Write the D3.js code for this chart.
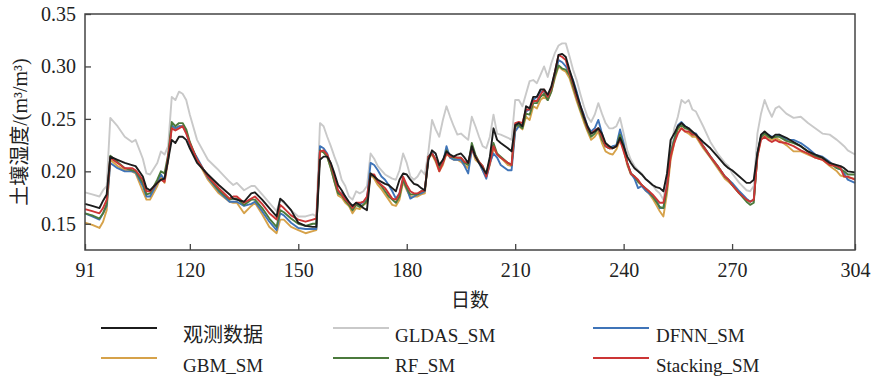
<!DOCTYPE html>
<html>
<head>
<meta charset="utf-8">
<script src="https://cdn.jsdelivr.net/npm/d3@7"></script>
<style>
  body { margin: 0; background: #fff; }
  svg { display: block; }
</style>
</head>
<body>
<svg id="chart" width="872" height="381"></svg>
<script>
// days (key points of the daily curves)
const days = [91, 93, 95, 96, 97, 98, 100, 102, 104, 105, 107, 108, 109, 111, 112, 113, 114, 115, 116, 117, 118, 119, 120,
  122, 125, 128, 131, 132, 133, 135, 137, 138, 140, 142, 144, 145, 146, 148, 150, 152, 154, 155, 156, 157, 158, 159, 160,
  161, 162, 163, 164, 165, 166, 167, 168, 169, 170, 171, 172, 173, 174, 175, 176, 177, 178, 179, 180, 181, 182, 183, 184,
  185, 186, 187, 188, 189, 190, 191, 192, 193, 194, 195, 196, 197, 198, 199, 200, 201, 202, 203, 204, 205, 206, 208, 209,
  210, 211, 212, 213, 214, 215, 216, 217, 218, 219, 220, 221, 222, 223, 224, 225, 226, 227, 228, 229, 230, 231, 232, 233,
  234, 235, 236, 237, 238, 239, 240, 241, 242, 243, 244, 245, 246, 247, 248, 249, 250, 251, 252, 253, 254, 255, 256, 257,
  258, 259, 260, 262, 264, 266, 268, 269, 270, 272, 274, 275, 276, 277, 278, 279, 280, 281, 282, 283, 285, 287, 289, 291,
  293, 295, 297, 299, 300, 301, 302, 304];

const observed = [.169, .167, .165, .172, .178, .214, .211, .208, .206, .205, .195, .184, .182, .189, .192, .193, .211, .230, .227, .233, .233, .230, .222,
  .208, .197, .187, .178, .174, .173, .171, .179, .180, .173, .165, .157, .174, .171, .163, .151, .148, .147, .147, .211, .214, .214, .208, .198,
  .187, .182, .176, .171, .167, .170, .168, .165, .163, .198, .195, .192, .190, .188, .187, .184, .181, .192, .198, .197, .192, .188, .187, .184,
  .182, .211, .220, .217, .206, .211, .219, .216, .214, .216, .217, .213, .208, .224, .214, .208, .203, .198, .214, .241, .230, .227, .222, .219,
  .244, .246, .243, .262, .260, .271, .271, .278, .278, .273, .281, .295, .311, .312, .309, .297, .286, .274, .263, .252, .243, .236, .238, .241,
  .236, .227, .224, .222, .224, .232, .224, .214, .208, .203, .200, .197, .193, .190, .187, .185, .184, .181, .198, .230, .236, .243, .246, .243,
  .241, .238, .235, .228, .222, .214, .206, .203, .201, .195, .189, .189, .192, .217, .235, .238, .235, .232, .235, .235, .232, .228, .224, .219,
  .216, .213, .208, .206, .205, .203, .200, .199];

const gldas = [.180, .178, .176, .182, .186, .251, .243, .233, .228, .230, .212, .198, .197, .208, .219, .216, .224, .271, .268, .276, .274, .268, .254,
  .230, .211, .201, .190, .187, .189, .182, .186, .186, .178, .170, .162, .173, .170, .163, .157, .157, .159, .157, .246, .243, .233, .224, .214,
  .205, .192, .186, .176, .173, .181, .179, .181, .186, .217, .212, .205, .201, .197, .195, .193, .192, .201, .217, .208, .195, .192, .195, .201,
  .197, .219, .249, .240, .233, .249, .262, .252, .243, .235, .236, .233, .230, .252, .243, .233, .224, .222, .233, .254, .236, .235, .232, .230,
  .268, .268, .262, .274, .286, .287, .284, .292, .300, .290, .303, .313, .320, .322, .322, .310, .297, .287, .274, .262, .252, .247, .254, .265,
  .255, .246, .241, .241, .243, .251, .236, .220, .211, .205, .201, .198, .193, .190, .187, .182, .179, .173, .195, .220, .241, .252, .268, .265,
  .268, .259, .257, .243, .228, .217, .208, .205, .198, .189, .182, .181, .186, .236, .255, .268, .259, .252, .260, .262, .255, .251, .252, .246,
  .241, .236, .235, .230, .227, .224, .220, .216];

const dfnn = [.160, .157, .154, .160, .167, .208, .203, .200, .200, .199, .186, .176, .176, .189, .197, .192, .212, .244, .241, .243, .243, .238, .225,
  .213, .194, .181, .171, .171, .171, .167, .169, .171, .162, .152, .144, .160, .158, .151, .146, .145, .145, .145, .224, .222, .217, .205, .192,
  .180, .179, .176, .170, .165, .169, .168, .171, .173, .208, .206, .201, .195, .192, .187, .181, .174, .179, .192, .184, .174, .176, .178, .179,
  .181, .214, .218, .211, .203, .208, .224, .213, .211, .211, .211, .205, .198, .221, .214, .208, .201, .193, .208, .217, .213, .206, .201, .201,
  .238, .243, .243, .257, .259, .268, .271, .276, .276, .268, .278, .292, .306, .304, .300, .295, .287, .276, .263, .254, .243, .238, .241, .249,
  .236, .224, .222, .224, .225, .240, .227, .208, .198, .193, .184, .186, .182, .179, .176, .173, .165, .165, .187, .217, .230, .244, .247, .243,
  .241, .236, .236, .224, .214, .205, .195, .192, .189, .181, .174, .171, .173, .217, .233, .236, .235, .233, .233, .235, .230, .230, .227, .222,
  .216, .214, .209, .203, .202, .198, .192, .189];

const gbm = [.151, .149, .146, .152, .163, .211, .205, .201, .200, .198, .181, .173, .173, .186, .195, .189, .210, .243, .241, .243, .243, .238, .227,
  .211, .192, .179, .171, .170, .170, .160, .167, .170, .159, .147, .141, .154, .154, .147, .144, .141, .143, .144, .220, .218, .214, .203, .190,
  .177, .175, .170, .167, .160, .165, .164, .168, .170, .197, .193, .187, .183, .178, .173, .168, .167, .173, .190, .182, .176, .176, .176, .178,
  .179, .213, .216, .209, .200, .206, .217, .213, .211, .211, .209, .206, .203, .222, .211, .208, .201, .195, .206, .222, .216, .213, .206, .205,
  .240, .243, .240, .252, .249, .262, .260, .268, .271, .268, .276, .289, .300, .297, .295, .289, .278, .267, .257, .247, .238, .230, .233, .238,
  .227, .219, .217, .216, .221, .230, .221, .206, .197, .195, .190, .187, .182, .179, .174, .168, .162, .157, .179, .211, .227, .240, .241, .238,
  .236, .233, .233, .222, .213, .203, .193, .190, .187, .179, .173, .171, .173, .214, .232, .235, .232, .230, .232, .230, .225, .219, .219, .216,
  .213, .211, .205, .200, .196, .195, .194, .193];

const rf = [.160, .158, .155, .160, .169, .215, .209, .203, .201, .200, .189, .178, .179, .192, .200, .198, .216, .247, .243, .246, .246, .240, .228,
  .211, .195, .182, .173, .174, .174, .168, .173, .173, .165, .155, .147, .163, .161, .155, .150, .148, .150, .150, .220, .218, .214, .203, .190,
  .179, .177, .172, .168, .163, .168, .166, .168, .172, .198, .195, .190, .186, .181, .176, .173, .170, .176, .192, .184, .178, .178, .178, .181,
  .182, .214, .217, .211, .203, .209, .220, .214, .213, .213, .213, .208, .206, .227, .216, .209, .205, .197, .211, .227, .217, .214, .208, .206,
  .243, .244, .241, .255, .254, .265, .265, .271, .274, .268, .276, .291, .301, .298, .297, .292, .281, .270, .259, .250, .240, .233, .236, .241,
  .230, .224, .222, .222, .224, .235, .224, .208, .198, .195, .190, .187, .184, .181, .176, .171, .166, .165, .184, .217, .230, .241, .244, .241,
  .240, .235, .235, .224, .214, .205, .195, .192, .187, .179, .171, .168, .170, .216, .233, .236, .233, .232, .233, .233, .229, .227, .224, .219,
  .214, .213, .208, .203, .202, .200, .197, .197];

const stacking = [.164, .162, .160, .165, .173, .213, .208, .203, .203, .201, .192, .181, .181, .189, .192, .190, .214, .241, .239, .241, .243, .236, .227,
  .211, .195, .184, .174, .176, .176, .170, .174, .176, .169, .160, .154, .168, .165, .158, .154, .152, .154, .155, .219, .220, .216, .207, .195,
  .182, .178, .173, .170, .165, .170, .170, .171, .176, .197, .197, .190, .187, .184, .179, .174, .173, .179, .195, .187, .181, .179, .179, .181,
  .182, .214, .217, .211, .200, .208, .217, .214, .214, .213, .213, .209, .208, .222, .214, .209, .205, .195, .208, .224, .216, .213, .208, .206,
  .246, .247, .246, .259, .259, .267, .267, .273, .278, .271, .279, .295, .311, .309, .306, .294, .284, .271, .262, .252, .241, .236, .239, .241,
  .233, .224, .222, .222, .224, .230, .219, .208, .198, .195, .192, .187, .184, .181, .178, .174, .170, .170, .186, .214, .227, .236, .241, .238,
  .238, .235, .235, .224, .214, .205, .195, .192, .187, .179, .173, .171, .173, .214, .230, .233, .230, .228, .230, .228, .227, .224, .220, .217,
  .213, .211, .206, .205, .203, .195, .195, .192];

const xTicks = [91, 120, 150, 180, 210, 240, 270, 304];
const yTicks = [0.15, 0.20, 0.25, 0.30, 0.35];

const seriesList = [
  {name: "GLDAS_SM", values: gldas, color: "#c9c9c9"},
  {name: "GBM_SM", values: gbm, color: "#d6a24a"},
  {name: "DFNN_SM", values: dfnn, color: "#3f74b8"},
  {name: "RF_SM", values: rf, color: "#4b7a3c"},
  {name: "Stacking_SM", values: stacking, color: "#cc3535"},
  {name: "观测数据", values: observed, color: "#1c1c1c"}
];

const serif = '"Liberation Serif", serif';
const cjk = '"Noto Sans CJK SC", sans-serif';

const svg = d3.select("#chart");
const plotLeft = 85, plotRight = 855, plotTop = 14, plotBottom = 250;

const x = d3.scaleLinear().domain([91, 304]).range([plotLeft, plotRight]);
const y = d3.scaleLinear().domain([0.125, 0.35]).range([plotBottom, plotTop]);

const line = d3.line()
  .x((d) => x(d[0]))
  .y((d) => y(d[1]));

const lineGroup = svg.append("g");
seriesList.forEach((s) => {
  lineGroup.append("path")
    .datum(days.map((d, i) => [d, s.values[i]]))
    .attr("fill", "none")
    .attr("stroke", s.color)
    .attr("stroke-width", 1.9)
    .attr("stroke-linejoin", "round")
    .attr("d", line);
});

// axes, ticks point inward
const yAxis = svg.append("g")
  .attr("transform", `translate(${plotLeft},0)`)
  .call(d3.axisLeft(y).tickValues(yTicks).tickFormat(d3.format(".2f")).tickSize(-6).tickPadding(9));
const xAxis = svg.append("g")
  .attr("transform", `translate(0,${plotBottom})`)
  .call(d3.axisBottom(x).tickValues(xTicks).tickFormat(d3.format("d")).tickSize(-6).tickPadding(13));

[xAxis, yAxis].forEach((a) => {
  a.attr("font-family", null).attr("font-size", null);
  a.select(".domain").remove();
  a.selectAll("line").attr("stroke", "#444").attr("stroke-width", 1.3);
  a.selectAll("text")
    .style("font-family", serif)
    .style("font-size", "20px")
    .attr("fill", "#222");
});

svg.append("rect")
  .attr("x", plotLeft)
  .attr("y", plotTop)
  .attr("width", plotRight - plotLeft)
  .attr("height", plotBottom - plotTop)
  .attr("fill", "none")
  .attr("stroke", "#444")
  .attr("stroke-width", 1.5);

// axis titles
svg.append("text")
  .attr("x", (plotLeft + plotRight) / 2)
  .attr("y", 307)
  .attr("text-anchor", "middle")
  .style("font-family", cjk)
  .style("font-size", "19px")
  .attr("fill", "#222")
  .text("日数");

const yTitle = svg.append("text")
  .attr("transform", `translate(27,${(plotTop + plotBottom) / 2}) rotate(-90)`)
  .attr("text-anchor", "middle")
  .attr("fill", "#222")
  .style("font-size", "20px");
yTitle.append("tspan").style("font-family", cjk).text("土壤湿度");
yTitle.append("tspan").style("font-family", serif).text("/(m³/m³)");

// legend
const legendItems = [
  {name: "观测数据", color: "#1c1c1c", col: 0, row: 0, cjk: true},
  {name: "GLDAS_SM", color: "#c9c9c9", col: 1, row: 0},
  {name: "DFNN_SM", color: "#3f74b8", col: 2, row: 0},
  {name: "GBM_SM", color: "#d6a24a", col: 0, row: 1},
  {name: "RF_SM", color: "#4b7a3c", col: 1, row: 1},
  {name: "Stacking_SM", color: "#cc3535", col: 2, row: 1}
];
const legendLineX = [101, 333, 593];
const legendTextX = [183, 395, 656];
const legendRowY = [328, 358];

const legend = svg.append("g");
legendItems.forEach((d) => {
  legend.append("line")
    .attr("x1", legendLineX[d.col])
    .attr("x2", legendLineX[d.col] + 56)
    .attr("y1", legendRowY[d.row])
    .attr("y2", legendRowY[d.row])
    .attr("stroke", d.color)
    .attr("stroke-width", 2.2);
  legend.append("text")
    .attr("x", legendTextX[d.col])
    .attr("y", legendRowY[d.row] + 14)
    .style("font-family", d.cjk ? cjk : serif)
    .style("font-size", d.cjk ? "20px" : "19px")
    .attr("fill", "#222")
    .text(d.name);
});
</script>
</body>
</html>
